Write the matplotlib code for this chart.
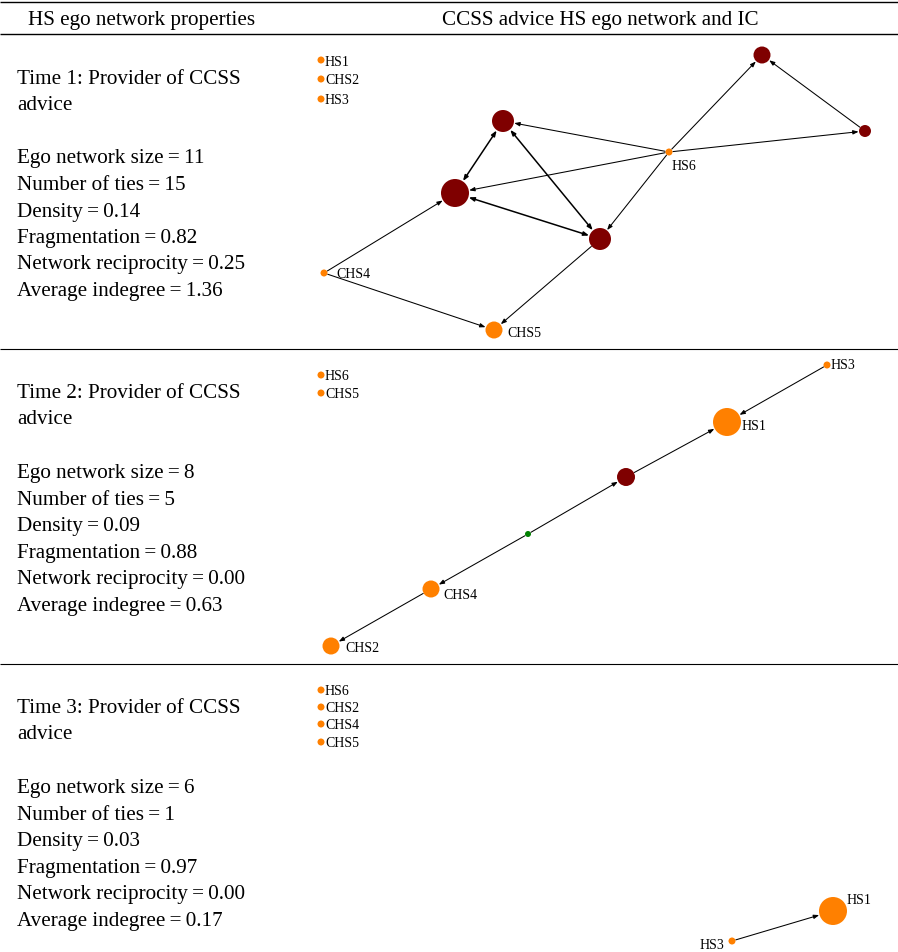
import matplotlib.pyplot as plt

plt.rcParams['font.family'] = ['Liberation Serif', 'DejaVu Serif']

DARK = '#7f0000'
ORANGE = '#ff8000'
GREEN = '#008000'

# left column: ego network properties per time point
times = ['Time 1', 'Time 2', 'Time 3']
ego_size = [11, 8, 6]
n_ties = [15, 5, 1]
density = ['0.14', '0.09', '0.03']
fragmentation = ['0.82', '0.88', '0.97']
reciprocity = ['0.25', '0.00', '0.00']
indegree = ['1.36', '0.63', '0.17']

# network layouts (x, y in panel pixels), node radius, colour, label
t1_names = ['HS1', 'CHS2', 'HS3', 'a', 'b', 'c', 'd', 'e', 'HS6', 'CHS4', 'CHS5']
t1_x = [321, 321, 321, 503, 455, 600, 762, 865, 669, 324, 494]
t1_y = [61, 80, 100, 122, 194, 240, 56, 132, 153, 274, 331]
t1_r = [3.5, 3.5, 3.5, 11, 14, 11, 8.5, 6, 3.5, 3.5, 8.5]
t1_col = [ORANGE, ORANGE, ORANGE, DARK, DARK, DARK, DARK, DARK, ORANGE, ORANGE, ORANGE]
t1_edges = [('HS6', 'a', False), ('HS6', 'b', False), ('HS6', 'd', False),
            ('HS6', 'e', False), ('HS6', 'c', False), ('e', 'd', False),
            ('a', 'b', True), ('a', 'c', True), ('b', 'c', True),
            ('CHS4', 'b', False), ('CHS4', 'CHS5', False), ('c', 'CHS5', False)]

t2_names = ['HS6', 'CHS5', 'HS3', 'HS1', 'f', 'g', 'CHS4', 'CHS2']
t2_x = [321, 321, 827, 727, 626, 528, 431, 331]
t2_y = [376, 394, 366, 423, 478, 535, 590, 647]
t2_r = [3.5, 3.5, 3.5, 14, 9, 3, 8.5, 8.5]
t2_col = [ORANGE, ORANGE, ORANGE, ORANGE, DARK, GREEN, ORANGE, ORANGE]
t2_edges = [('HS3', 'HS1', False), ('f', 'HS1', False), ('g', 'f', False),
            ('g', 'CHS4', False), ('CHS4', 'CHS2', False)]

t3_names = ['HS6', 'CHS2', 'CHS4', 'CHS5', 'HS1', 'HS3']
t3_x = [321, 321, 321, 321, 833, 732]
t3_y = [691, 708, 725, 743, 912, 942]
t3_r = [3.5, 3.5, 3.5, 3.5, 14, 3.5]
t3_col = [ORANGE] * 6
t3_edges = [('HS3', 'HS1', False)]

# label placement relative to node (dx, dy, ha)
label_pos = {
    (0, 'HS6'): (3, 13, 'left'), (0, 'CHS4'): (12, 1, 'left'), (0, 'CHS5'): (13, 3, 'left'),
    (1, 'HS1'): (15, 4, 'left'), (1, 'CHS4'): (12, 6, 'left'), (1, 'CHS2'): (14, 2, 'left'),
    (1, 'HS3'): (4, 0, 'left'),
    (2, 'HS1'): (14, -11, 'left'), (2, 'HS3'): (-8, 4, 'right'),
}

W, H = 898, 953
fig = plt.figure(figsize=(W / 100, H / 100), dpi=100)
ax = fig.add_axes([0, 0, 1, 1])
ax.set_xlim(0, W)
ax.set_ylim(H, 0)
ax.axis('off')

# table rules and header
for y, lw in [(3, 1.0), (35, 1.0), (350, 0.8), (665, 0.8)]:
    ax.plot([0, W], [y, y], color='black', lw=lw, solid_capstyle='butt')
ax.text(142, 20, 'HS ego network properties', fontsize=15.2, ha='center', va='center')
ax.text(600, 20, 'CCSS advice HS ego network and IC', fontsize=15.2, ha='center', va='center')

# property text per panel
tops = [79, 394, 709]
for i in range(3):
    y0 = tops[i]
    lines = [(f'{times[i]}: Provider of CCSS', 0), ('advice', 26),
             (f'Ego network size\u2009=\u2009{ego_size[i]}', 80),
             (f'Number of ties\u2009=\u2009{n_ties[i]}', 107),
             (f'Density\u2009=\u2009{density[i]}', 133),
             (f'Fragmentation\u2009=\u2009{fragmentation[i]}', 160),
             (f'Network reciprocity\u2009=\u2009{reciprocity[i]}', 186),
             (f'Average indegree\u2009=\u2009{indegree[i]}', 213)]
    for s, dy in lines:
        ax.text(17, y0 + dy, s, fontsize=15.2, ha='left', va='center')


def draw_network(k, names, xs, ys, rs, cols, edges):
    pos = {n: (x, y) for n, x, y in zip(names, xs, ys)}
    rad = {n: r for n, r in zip(names, rs)}
    for src, dst, mutual in edges:
        head = 'head_length=0.32,head_width=0.12'
        style = f'<|-|>,{head}' if mutual else f'-|>,{head}'
        ax.annotate('', xy=pos[dst], xytext=pos[src],
                    arrowprops=dict(arrowstyle=style, color='black',
                                    lw=1.1 if mutual else 0.75,
                                    shrinkA=rad[src] * 0.72 + 0.3,
                                    shrinkB=rad[dst] * 0.72 + 0.3),
                    zorder=1)
    ax.scatter(xs, ys, s=[(1.44 * r) ** 2 for r in rs], c=cols, linewidths=0, zorder=2)
    for n, x, y, r in zip(names, xs, ys, rs):
        if len(n) == 1:
            continue
        if (k, n) in label_pos:
            dx, dy, ha = label_pos[(k, n)]
        else:
            dx, dy, ha = 4, 1, 'left'
        ax.text(x + dx, y + dy, n, fontsize=10, ha=ha, va='center')


draw_network(0, t1_names, t1_x, t1_y, t1_r, t1_col, t1_edges)
draw_network(1, t2_names, t2_x, t2_y, t2_r, t2_col, t2_edges)
draw_network(2, t3_names, t3_x, t3_y, t3_r, t3_col, t3_edges)

fig.savefig('out.png', dpi=100)
